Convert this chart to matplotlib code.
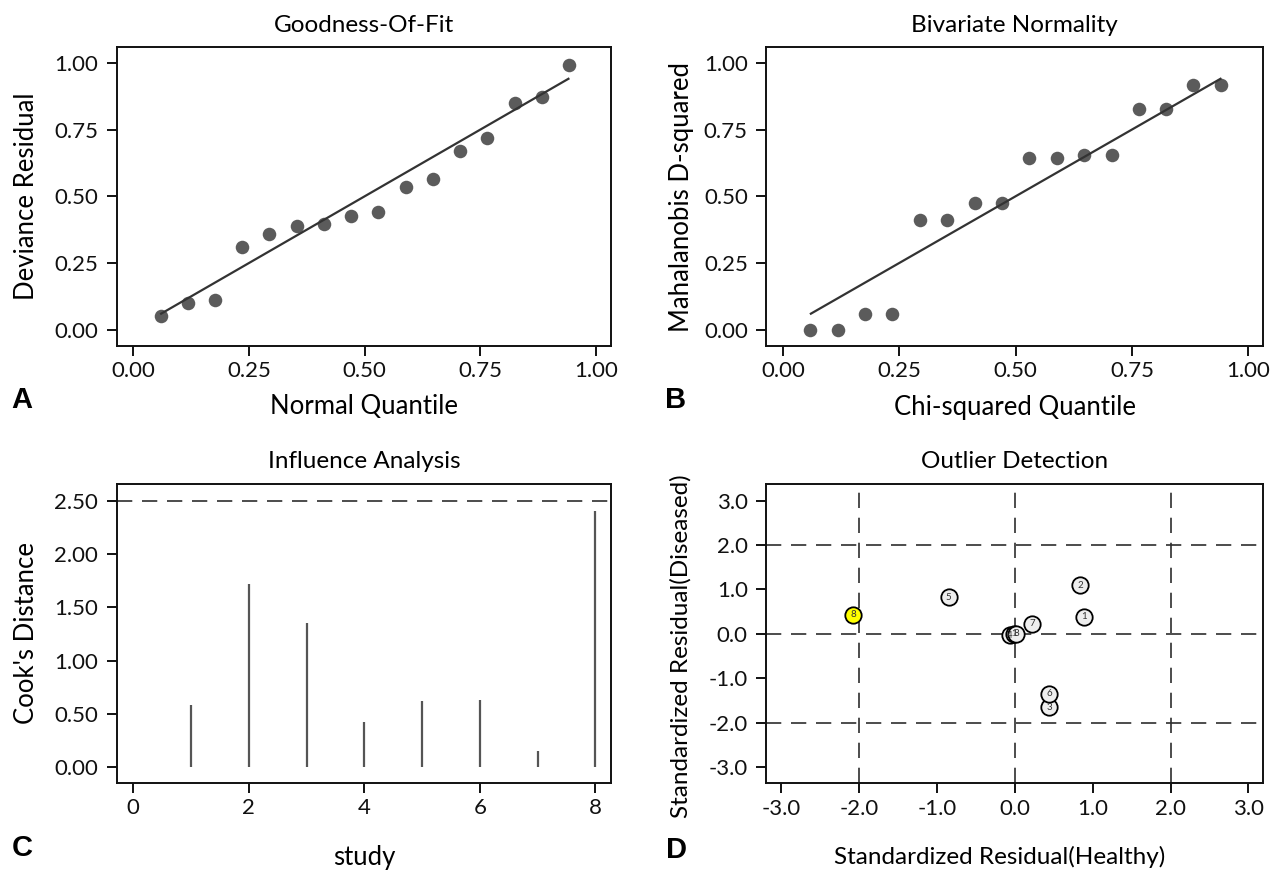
import matplotlib
matplotlib.use("Agg")
import matplotlib.pyplot as plt

plt.rcParams['font.family'] = ['Lato', 'DejaVu Sans']
plt.rcParams['lines.scale_dashes'] = False

# ---------------- data ----------------
# A: Goodness-of-fit
gof_quantile = [0.059, 0.118, 0.176, 0.235, 0.294, 0.353, 0.412, 0.471,
                0.529, 0.588, 0.647, 0.706, 0.765, 0.824, 0.882, 0.941]
gof_residual = [0.05, 0.10, 0.11, 0.31, 0.36, 0.39, 0.395, 0.425,
                0.44, 0.535, 0.563, 0.668, 0.719, 0.848, 0.870, 0.991]
gof_line_x = [0.06, 0.94]
gof_line_y = [0.06, 0.94]

# B: Bivariate normality
bvn_quantile = [0.059, 0.118, 0.176, 0.235, 0.294, 0.353, 0.412, 0.471,
                0.529, 0.588, 0.647, 0.706, 0.765, 0.824, 0.882, 0.941]
bvn_d2 = [0.00, 0.00, 0.059, 0.059, 0.412, 0.412, 0.473, 0.473,
          0.642, 0.642, 0.653, 0.653, 0.827, 0.827, 0.917, 0.917]
bvn_line_x = [0.06, 0.94]
bvn_line_y = [0.06, 0.94]

# C: Influence analysis
study = [1, 2, 3, 4, 5, 6, 7, 8]
cooks_d = [0.58, 1.715, 1.353, 0.422, 0.625, 0.628, 0.156, 2.403]
cooks_threshold = 2.5

# D: Outlier detection
out_labels = ['1', '2', '3', '5', '6', '7', '4', '1', '8', '8']
out_healthy = [0.89, 0.84, 0.44, -0.85, 0.44, 0.22, -0.06, -0.01, 0.02, -2.07]
out_diseased = [0.38, 1.09, -1.66, 0.82, -1.35, 0.23, -0.03, 0.0, 0.0, 0.43]
out_colors = ['#eeeeee'] * 9 + ['#ffff00']
out_cut = [-2.0, 0.0, 2.0]

ticks_01 = [0.00, 0.25, 0.50, 0.75, 1.00]
ticks_01_lab = ['0.00', '0.25', '0.50', '0.75', '1.00']
ticks_c_y = [0.0, 0.5, 1.0, 1.5, 2.0, 2.5]
ticks_c_y_lab = ['0.00', '0.50', '1.00', '1.50', '2.00', '2.50']
ticks_c_x = [0, 2, 4, 6, 8]
ticks_d = [-3, -2, -1, 0, 1, 2, 3]
ticks_d_lab = ['-3.0', '-2.0', '-1.0', '0.0', '1.0', '2.0', '3.0']

# ---------------- layout ----------------
W, H = 1270, 874
fig = plt.figure(figsize=(W / 100, H / 100), dpi=100)


def rect(l, t, r, b):
    return [l / W, 1 - b / H, (r - l) / W, (b - t) / H]


def ftext(x, y, s, **kw):
    fig.text(x / W, 1 - y / H, s, ha='center', va='center', **kw)


TICK_FS = 16
LAB_FS = 18.5
LAB_FS_LONG = 17.5
TITLE_FS = 17.5
SPINE_LW = 1.4
DARK = '#111111'
DASH_COLOR = '#2e2e2e'


def style(ax):
    for sp in ax.spines.values():
        sp.set_linewidth(SPINE_LW)
        sp.set_color(DARK)
    ax.tick_params(axis='both', direction='out', length=7.2, width=SPINE_LW,
                   color=DARK, labelsize=TICK_FS, labelcolor='#111111')
    ax.tick_params(axis='x', pad=4.0)
    ax.tick_params(axis='y', pad=6.0)


axA = fig.add_axes(rect(116.7, 47.3, 611, 345.7))
axB = fig.add_axes(rect(766.2, 47.3, 1263.3, 345.7))
axC = fig.add_axes(rect(116.7, 484.3, 611, 782.5))
axD = fig.add_axes(rect(766.2, 484.3, 1263.3, 783.3))

dot_color = '#5b5b5b'
line_color = '#333333'

# A
axA.scatter(gof_quantile, gof_residual, s=95, color=dot_color, zorder=2, linewidths=0)
axA.plot(gof_line_x, gof_line_y, color=line_color, lw=1.6, zorder=3)
axA.set_xlim(-0.036, 1.032)
axA.set_ylim(-0.06, 1.058)
axA.set_xticks(ticks_01, ticks_01_lab)
axA.set_yticks(ticks_01, ticks_01_lab)
style(axA)

# B
axB.scatter(bvn_quantile, bvn_d2, s=95, color=dot_color, zorder=2, linewidths=0)
axB.plot(bvn_line_x, bvn_line_y, color=line_color, lw=1.6, zorder=3)
axB.set_xlim(-0.036, 1.032)
axB.set_ylim(-0.06, 1.058)
axB.set_xticks(ticks_01, ticks_01_lab)
axB.set_yticks(ticks_01, ticks_01_lab)
style(axB)

# C
axC.vlines(study, 0, cooks_d, color='#555555', lw=1.6, zorder=2)
axC.axhline(cooks_threshold, color=DASH_COLOR, lw=1.2, linestyle=(0, (11, 7)), zorder=1)
axC.set_xlim(-0.287, 8.27)
axC.set_ylim(-0.144, 2.655)
axC.set_xticks(ticks_c_x, [str(t) for t in ticks_c_x])
axC.set_yticks(ticks_c_y, ticks_c_y_lab)
style(axC)

# D
for c in out_cut:
    axD.axhline(c, color=DASH_COLOR, lw=1.2, linestyle=(0, (11, 7)), zorder=1)
    axD.axvline(c, color=DASH_COLOR, lw=1.2, linestyle=(0, (11, 7)), zorder=1)
for lab, xh, yd, col in zip(out_labels, out_healthy, out_diseased, out_colors):
    axD.plot([xh], [yd], marker='o', markersize=11.8, markerfacecolor=col,
             markeredgecolor='#000000', markeredgewidth=1.3, zorder=3, linestyle='none')
    axD.text(xh, yd, lab, fontsize=7, ha='center', va='center', color='#333333',
             zorder=4)
axD.set_xlim(-3.19, 3.19)
axD.set_ylim(-3.37, 3.37)
axD.set_xticks(ticks_d, ticks_d_lab)
axD.set_yticks(ticks_d, ticks_d_lab)
style(axD)

# titles
ftext(364, 25, 'Goodness-Of-Fit', fontsize=TITLE_FS)
ftext(1014.7, 25, 'Bivariate Normality', fontsize=TITLE_FS)
ftext(364, 462, 'Influence Analysis', fontsize=TITLE_FS)
ftext(1014.7, 462, 'Outlier Detection', fontsize=TITLE_FS)

# axis labels
ftext(364, 407, 'Normal Quantile', fontsize=LAB_FS)
ftext(1014.7, 407, 'Chi-squared Quantile', fontsize=LAB_FS)
ftext(364, 858, 'study', fontsize=LAB_FS)
ftext(1000, 857, 'Standardized Residual(Healthy)', fontsize=LAB_FS_LONG)
ftext(27, 196.5, 'Deviance Residual', fontsize=LAB_FS, rotation=90)
ftext(681, 196.5, 'Mahalanobis D-squared', fontsize=LAB_FS, rotation=90)
ftext(27, 633, "Cook's Distance", fontsize=LAB_FS, rotation=90)
ftext(681, 646, 'Standardized Residual(Diseased)', fontsize=LAB_FS_LONG, rotation=90)

# panel letters
for letter, x, y in [('A', 22, 400), ('B', 676, 400), ('C', 22, 848), ('D', 676, 850)]:
    ftext(x, y, letter, fontsize=21, fontweight='bold', family='Liberation Sans')

fig.savefig('out.png', dpi=100, facecolor='white')
